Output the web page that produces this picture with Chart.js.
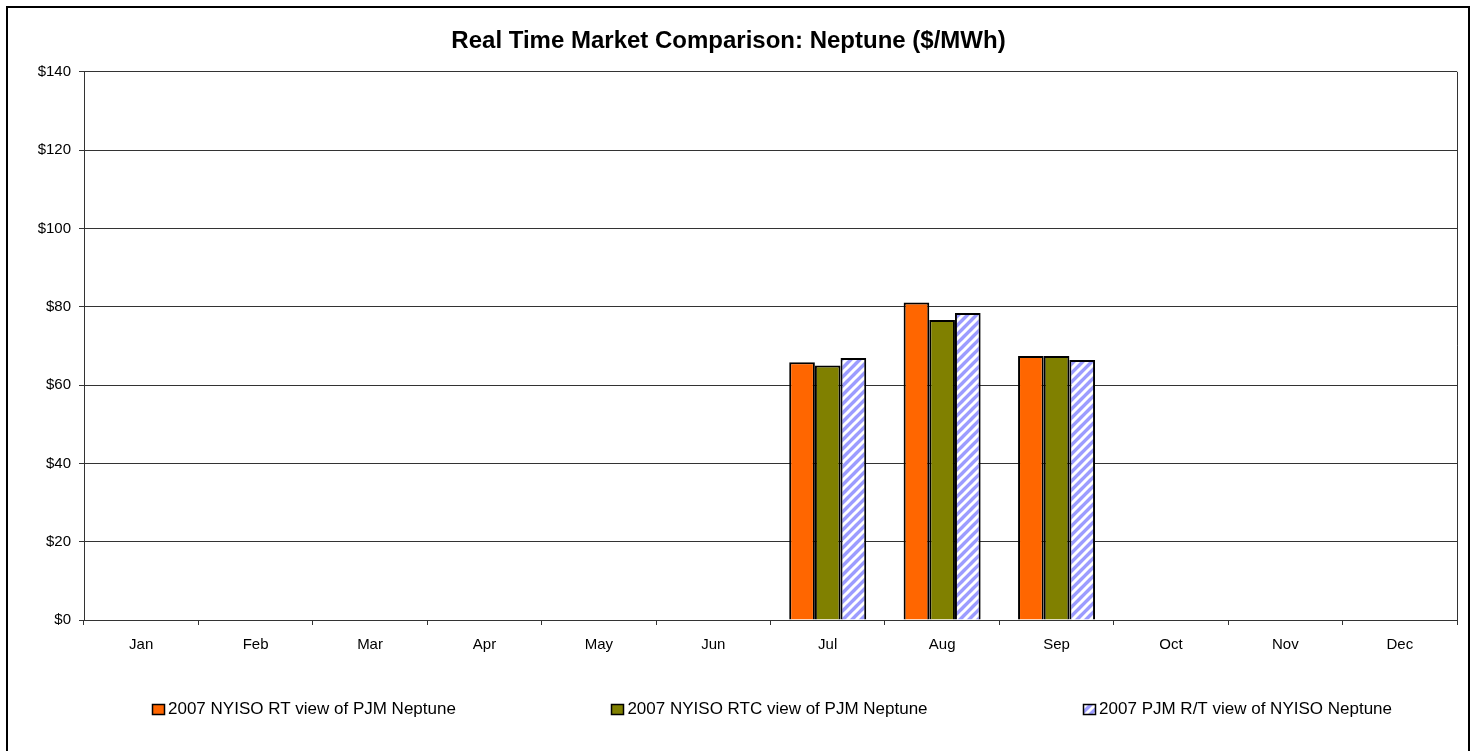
<!DOCTYPE html>
<html>
<head>
<meta charset="utf-8">
<script src="https://cdn.jsdelivr.net/npm/chart.js"></script>
<style>
  html, body { margin: 0; padding: 0; background: #fff; overflow: hidden; }
  #frame { position: absolute; left: 6px; top: 6px; width: 1460px; height: 800px; border: 2px solid #000; }
  #chart { position: absolute; left: 0; top: 0; }
</style>
</head>
<body>
<div id="frame"></div>
<canvas id="chart" width="1476" height="751"></canvas>
<script>
// data (months with no bar are null)
const months = ['Jan', 'Feb', 'Mar', 'Apr', 'May', 'Jun', 'Jul', 'Aug', 'Sep', 'Oct', 'Nov', 'Dec'];
const nyisoRt = [null, null, null, null, null, null, 65.8, 81.1, 67.4, null, null, null];
const nyisoRtc = [null, null, null, null, null, null, 65.0, 76.6, 67.4, null, null, null];
const pjmRt = [null, null, null, null, null, null, 66.9, 78.4, 66.4, null, null, null];
const seriesNames = [
  '2007 NYISO RT view of PJM Neptune',
  '2007 NYISO RTC view of PJM Neptune',
  '2007 PJM R/T view of NYISO Neptune'
];
const yTicks = [0, 20, 40, 60, 80, 100, 120, 140];

const FONT = '"Liberation Sans", Arial, sans-serif';
const lineCol = '#333';

let canvas = document.getElementById('chart');
let ctx = canvas.getContext('2d');

// lavender with white diagonal stripes
function stripes() {
  const s = 9;
  const c = document.createElement('canvas');
  c.width = s;
  c.height = s;
  const g = c.getContext('2d');
  g.fillStyle = '#9c9cff';
  g.fillRect(0, 0, s, s);
  g.strokeStyle = '#ffffff';
  g.lineWidth = 3;
  g.beginPath();
  g.moveTo(-2, s + 2); g.lineTo(s + 2, -2);
  g.moveTo(-2, 2); g.lineTo(2, -2);
  g.moveTo(s - 2, s + 2); g.lineTo(s + 2, s - 2);
  g.stroke();
  return ctx.createPattern(c, 'repeat');
}

// right edge of the plot box
const plotBox = {
  id: 'plotBox',
  beforeDatasetsDraw(chart) {
    const a = chart.chartArea;
    const c = chart.ctx;
    c.save();
    c.strokeStyle = lineCol;
    c.lineWidth = 1;
    c.beginPath();
    c.moveTo(Math.round(a.right) + 0.5, a.top);
    c.lineTo(Math.round(a.right) + 0.5, a.bottom);
    c.stroke();
    c.restore();
  }
};

// legend spread across the bottom like the original
const bottomLegend = {
  id: 'bottomLegend',
  afterDraw(chart) {
    const c = chart.ctx;
    const a = chart.chartArea;
    c.save();
    c.font = '17px ' + FONT;
    const items = chart.data.datasets.map(ds => ({
      text: ds.label,
      fill: ds.backgroundColor,
      w: 16 + c.measureText(ds.label).width
    }));
    const left = a.left + 68;
    const right = a.right - 65;
    const used = items.reduce((s, it) => s + it.w, 0);
    const gap = (right - left - used) / (items.length - 1);
    const y = chart.height - 42;
    let x = left;
    items.forEach(it => {
      c.fillStyle = it.fill;
      c.fillRect(x, y - 5, 12, 10);
      c.strokeStyle = '#000';
      c.lineWidth = 1.5;
      c.strokeRect(Math.round(x) + 0.5, y - 5 + 0.5, 12, 10);
      c.fillStyle = '#000';
      c.textBaseline = 'middle';
      c.textAlign = 'left';
      c.fillText(it.text, x + 16, y);
      x += it.w + gap;
    });
    c.restore();
  }
};

new Chart(canvas, {
  type: 'bar',
  data: {
    labels: months,
    datasets: [
      { label: seriesNames[0], data: nyisoRt, backgroundColor: '#ff6600' },
      { label: seriesNames[1], data: nyisoRtc, backgroundColor: '#808000' },
      { label: seriesNames[2], data: pjmRt, backgroundColor: stripes() }
    ]
  },
  options: {
    responsive: false,
    animation: false,
    layout: { padding: { left: 0, right: 19, top: 0, bottom: 86 } },
    datasets: {
      bar: {
        borderColor: '#000',
        borderWidth: 2,
        categoryPercentage: 0.673,
        barPercentage: 1
      }
    },
    plugins: {
      legend: { display: false },
      tooltip: { enabled: false },
      title: {
        display: true,
        text: 'Real Time Market Comparison: Neptune ($/MWh)',
        color: '#000',
        font: { family: FONT, size: 24, weight: 'bold' },
        padding: { top: 27, bottom: 16 }
      }
    },
    scales: {
      x: {
        grid: { display: true, drawOnChartArea: false, drawTicks: true, tickLength: 5, offset: true, color: lineCol },
        border: { display: true, color: lineCol },
        ticks: { color: '#000', font: { family: FONT, size: 15 }, padding: 11, maxRotation: 0 }
      },
      y: {
        min: 0,
        max: yTicks[yTicks.length - 1],
        afterFit(scale) { scale.width = 84; },
        afterBuildTicks(scale) { scale.ticks = yTicks.map(v => ({ value: v })); },
        grid: { color: lineCol, tickLength: 5, drawTicks: true },
        border: { display: true, color: lineCol },
        ticks: {
          color: '#000',
          font: { family: FONT, size: 15 },
          padding: 8,
          callback: v => '$' + v
        }
      }
    }
  },
  plugins: [plotBox, bottomLegend]
});
</script>
</body>
</html>
